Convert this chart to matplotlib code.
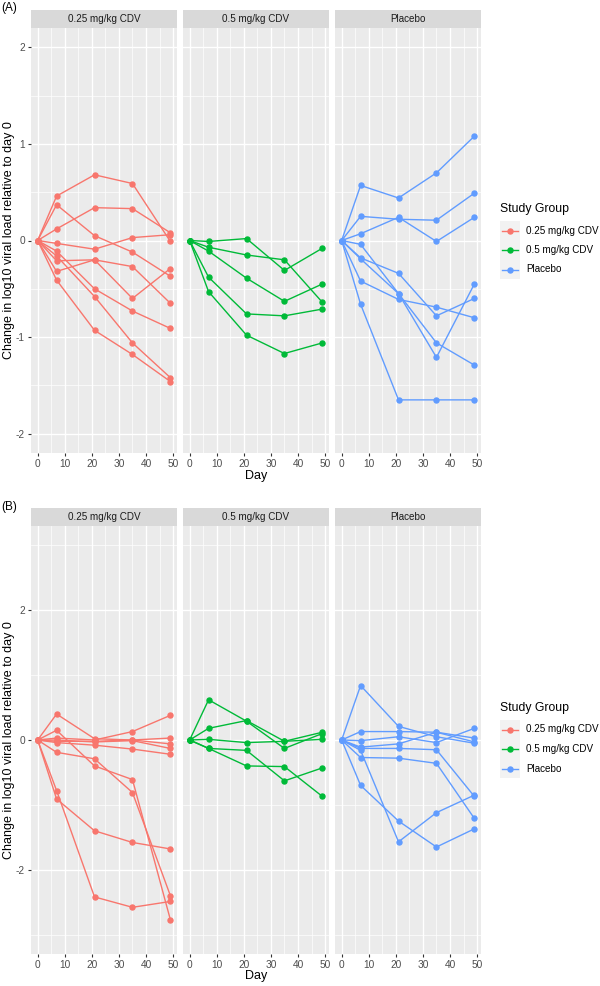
import numpy as np
import matplotlib.pyplot as plt
from matplotlib.patches import Rectangle

plt.rcParams['font.family'] = ['Liberation Sans', 'DejaVu Sans']
plt.rcParams['axes.unicode_minus'] = False

days = [0, 7, 21, 35, 49]
groups = ['0.25 mg/kg CDV', '0.5 mg/kg CDV', 'Placebo']
colors = ['#F8766D', '#00BA38', '#619CFF']

# panel (A): one row per subject, values at days 0, 7, 21, 35, 49
a_cdv025 = [
    [0, 0.46, 0.68, 0.59, -0.01],
    [0, 0.37, 0.05, -0.12, -0.37],
    [0, 0.12, 0.34, 0.33, 0.08],
    [0, -0.03, -0.09, 0.03, 0.06],
    [0, -0.32, -0.20, -0.27, -0.65],
    [0, -0.21, -0.20, -0.60, -0.29],
    [0, -0.11, -0.50, -0.73, -0.91],
    [0, -0.16, -0.58, -1.06, -1.42],
    [0, -0.41, -0.93, -1.18, -1.46],
]
a_cdv05 = [
    [0, -0.01, 0.02, -0.31, -0.08],
    [0, -0.07, -0.15, -0.20, -0.64],
    [0, -0.11, -0.39, -0.63, -0.45],
    [0, -0.38, -0.76, -0.78, -0.71],
    [0, -0.53, -0.98, -1.17, -1.06],
]
a_placebo = [
    [0, 0.57, 0.44, 0.70, 1.08],
    [0, 0.25, 0.22, 0.21, 0.49],
    [0, 0.07, 0.24, -0.01, 0.24],
    [0, -0.04, -0.55, -1.21, -0.45],
    [0, -0.18, -0.34, -0.78, -0.60],
    [0, -0.19, -0.55, -1.06, -1.29],
    [0, -0.42, -0.61, -0.69, -0.80],
    [0, -0.66, -1.65, -1.65, -1.65],
]

# panel (B)
b_cdv025 = [
    [0, 0.40, 0.02, 0.00, 0.03],
    [0, 0.03, 0.00, 0.13, 0.38],
    [0, -0.02, -0.02, 0.00, -0.06],
    [0, 0.00, -0.03, -0.01, -0.13],
    [0, -0.04, -0.08, -0.14, -0.22],
    [0, 0.15, -0.40, -0.61, -2.77],
    [0, -0.19, -0.29, -0.81, -2.40],
    [0, -0.91, -1.40, -1.58, -1.68],
    [0, -0.78, -2.42, -2.58, -2.49],
]
b_cdv05 = [
    [0, 0.62, 0.29, -0.13, 0.10],
    [0, 0.18, 0.30, -0.02, 0.12],
    [0, 0.01, -0.04, -0.02, 0.01],
    [0, -0.13, -0.16, -0.63, -0.43],
    [0, -0.13, -0.40, -0.41, -0.87],
]
b_placebo = [
    [0, 0.84, 0.21, 0.05, -0.05],
    [0, 0.13, 0.13, 0.12, 0.03],
    [0, -0.01, 0.05, -0.04, 0.18],
    [0, -0.11, -0.06, 0.12, -0.03],
    [0, -0.13, -0.13, -0.15, -0.87],
    [0, -0.27, -0.28, -0.36, -1.21],
    [0, -0.16, -1.57, -1.12, -0.85],
    [0, -0.70, -1.25, -1.65, -1.37],
]

W, H = 600, 986
fig = plt.figure(figsize=(6, 9.86), dpi=100)


def box(x0, y0, x1, y1):
    return [x0 / W, 1 - y1 / H, (x1 - x0) / W, (y1 - y0) / H]


facet_x = [(31, 177), (183, 329), (335, 481)]


def draw_panel(series, strip_top, strip_bot, bottom, lim, majors, minors):
    for i, (x0, x1) in enumerate(facet_x):
        st = fig.add_axes(box(x0, strip_top, x1, strip_bot))
        st.set_facecolor('#D9D9D9')
        st.set_xticks([])
        st.set_yticks([])
        for s in st.spines.values():
            s.set_visible(False)
        st.text(0.5, 0.5, groups[i], ha='center', va='center',
                fontsize=7.1, color='#1A1A1A', transform=st.transAxes)

        ax = fig.add_axes(box(x0, strip_bot, x1, bottom))
        ax.set_facecolor('#EBEBEB')
        for s in ax.spines.values():
            s.set_visible(False)
        ax.set_xlim(-2.45, 51.45)
        ax.set_ylim(-lim, lim)
        ax.set_xticks([0, 10, 20, 30, 40, 50])
        ax.set_xticks([5, 15, 25, 35, 45], minor=True)
        ax.set_yticks(majors)
        ax.set_yticks(minors, minor=True)
        ax.grid(which='major', color='white', lw=1.0)
        ax.grid(which='minor', color='white', lw=0.5)
        ax.set_axisbelow(True)
        ax.tick_params(which='minor', length=0)
        ax.tick_params(which='major', length=2.5, width=0.8, color='#333333',
                       labelsize=7.3, labelcolor='#4D4D4D', pad=2)
        if i > 0:
            ax.tick_params(axis='y', left=False, labelleft=False)
        for vals in series[i]:
            ax.plot(days, vals, '-o', color=colors[i], lw=1.0, ms=3.6,
                    solid_joinstyle='round', zorder=3)


draw_panel([a_cdv025, a_cdv05, a_placebo], 10, 28, 453, 2.2,
           [-2, -1, 0, 1, 2], [-1.5, -0.5, 0.5, 1.5])
draw_panel([b_cdv025, b_cdv05, b_placebo], 508, 526, 954, 3.3,
           [-2, 0, 2], [-3, -1, 1, 3])

ov = fig.add_axes([0, 0, 1, 1])
ov.set_xlim(0, W)
ov.set_ylim(H, 0)
ov.axis('off')
ov.patch.set_alpha(0)

for off, tag, center, day_y in [(0, '(A)', 240, 476), (499, '(B)', 740, 976)]:
    ov.text(1, 8 + off, tag, fontsize=8.5, ha='left', va='center', color='black')
    ov.text(9, center, 'Change in log10 viral load relative to day 0',
            rotation=90, fontsize=9, ha='center', va='center')
    ov.text(256, day_y, 'Day', fontsize=9, ha='center', va='center')
    ov.text(500, 209 + off, 'Study Group', fontsize=8.8, ha='left', va='center')
    for k, g in enumerate(groups):
        yc = 230.5 + off + 19.5 * k
        ov.add_patch(Rectangle((500, yc - 9.75), 19.5, 19.5, fc='#F2F2F2', ec='none'))
        ov.plot([502, 517.5], [yc, yc], color=colors[k], lw=1.0)
        ov.plot([509.75], [yc], 'o', color=colors[k], ms=3.6)
        ov.text(526, yc, g, fontsize=7.1, ha='left', va='center', color='black')

fig.savefig('out.png', dpi=100)
